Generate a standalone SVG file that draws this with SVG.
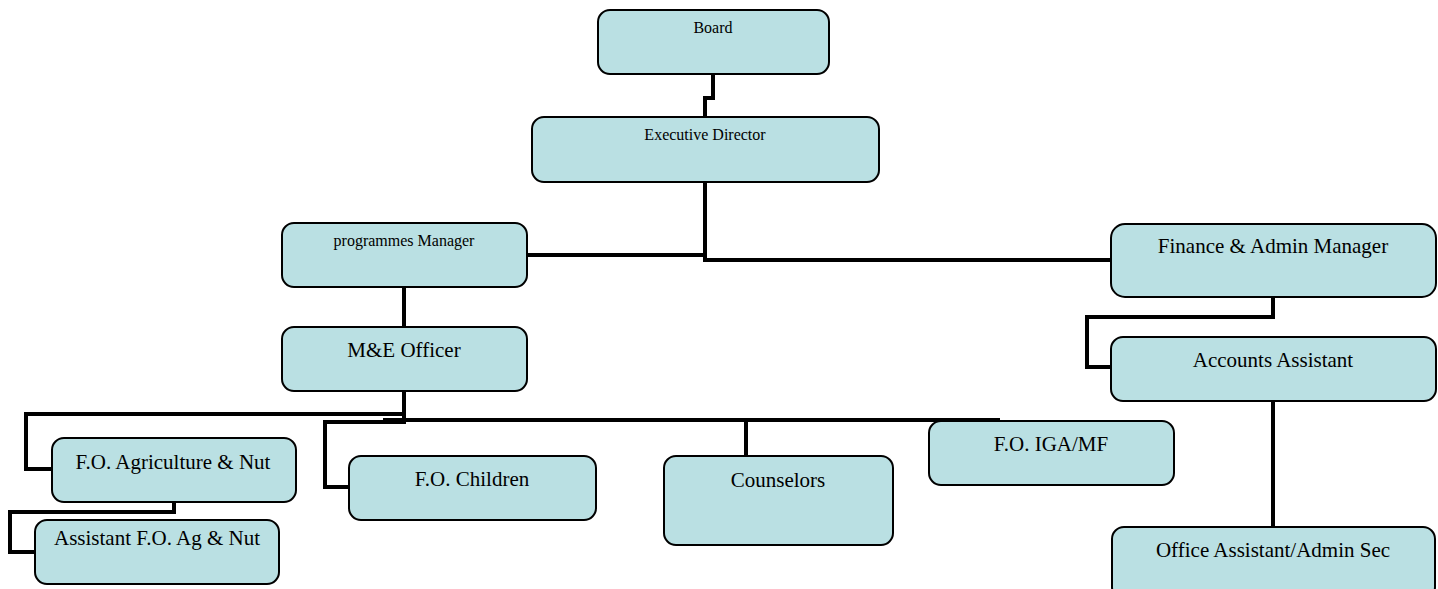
<svg xmlns="http://www.w3.org/2000/svg" width="1438" height="589" viewBox="0 0 1438 589">
<style>
.box{fill:#BAE0E3;stroke:#000;stroke-width:2}
.t{font-family:"Liberation Serif","Times New Roman",serif;fill:#000;text-anchor:middle}
.s{font-size:16px}
.l{font-size:21px}
.c{fill:none;stroke:#000;stroke-width:4;stroke-linejoin:miter;stroke-linecap:butt}
</style>
<rect width="1438" height="589" fill="#fff"/>
<g id="connectors">
<path class="c" d="M713 74 V98 H705 V117"/>
<path class="c" d="M705 182 V260 H1111"/>
<path class="c" d="M527 255 H705"/>
<path class="c" d="M404 287 V327"/>
<path class="c" d="M1273 297 V317 H1087 V367 H1111"/>
<path class="c" d="M1273 401 V527"/>
<path class="c" d="M404 391 V414 H26 V469 H52"/>
<path class="c" d="M404 414 V422 H325 V487 H349"/>
<path class="c" d="M383 420 H1000"/>
<path class="c" d="M746 420 V456"/>
<path class="c" d="M174 502 V512 H10 V552 H35"/>
</g>
<g id="board"><rect class="box" x="598" y="10" width="231" height="64" rx="12"/><text class="t s" x="713" y="33">Board</text></g>
<g id="exec"><rect class="box" x="532" y="117" width="347" height="65" rx="12"/><text class="t s" x="705" y="140">Executive Director</text></g>
<g id="pm"><rect class="box" x="282" y="223" width="245" height="64" rx="12"/><text class="t s" x="404" y="246">programmes Manager</text></g>
<g id="me"><rect class="box" x="282" y="327" width="245" height="64" rx="12"/><text class="t l" x="404" y="357">M&amp;E Officer</text></g>
<g id="fin"><rect class="box" x="1111" y="224" width="325" height="73" rx="14"/><text class="t l" x="1273" y="253">Finance &amp; Admin Manager</text></g>
<g id="acc"><rect class="box" x="1111" y="337" width="325" height="64" rx="12"/><text class="t l" x="1273" y="367">Accounts Assistant</text></g>
<g id="office"><rect class="box" x="1112" y="527" width="323" height="72" rx="12"/><text class="t l" x="1273" y="557">Office Assistant/Admin Sec</text></g>
<g id="foag"><rect class="box" x="52" y="438" width="244" height="64" rx="12"/><text class="t l" x="173" y="469">F.O. Agriculture &amp; Nut</text></g>
<g id="asst"><rect class="box" x="35" y="520" width="244" height="64" rx="12"/><text class="t l" x="157" y="545">Assistant F.O. Ag &amp; Nut</text></g>
<g id="foch"><rect class="box" x="349" y="456" width="247" height="64" rx="12"/><text class="t l" x="472" y="486">F.O. Children</text></g>
<g id="couns"><rect class="box" x="664" y="456" width="229" height="89" rx="12"/><text class="t l" x="778" y="487">Counselors</text></g>
<g id="foiga"><rect class="box" x="929" y="421" width="245" height="64" rx="12"/><text class="t l" x="1051" y="451">F.O. IGA/MF</text></g>
</svg>
